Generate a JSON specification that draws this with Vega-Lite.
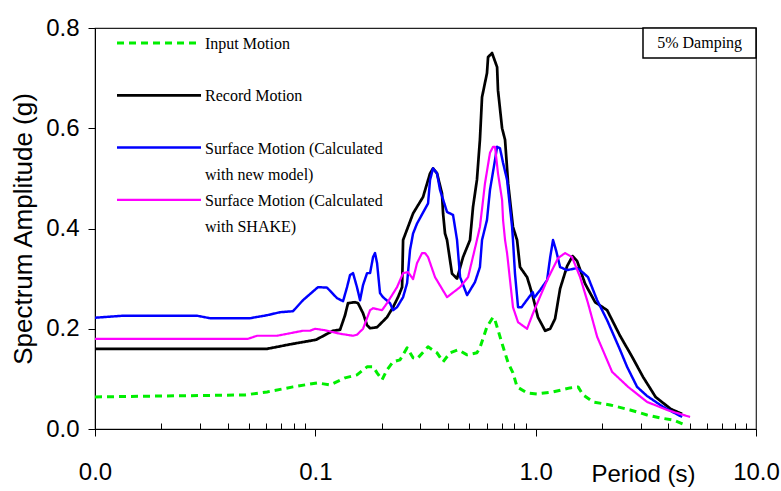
{
  "$schema": "https://vega.github.io/schema/vega-lite/v6.json",
  "width": 661,
  "height": 401,
  "autosize": {"type": "none"},
  "padding": {"left": 95, "top": 28, "right": 25, "bottom": 62},
  "background": "white",
  "config": {
    "view": {"stroke": "#222", "strokeWidth": 1.2},
    "axis": {"domainColor": "#000", "tickColor": "#000", "labelColor": "#000", "titleColor": "#000", "labelFont": "Liberation Sans", "titleFont": "Liberation Sans", "grid": false, "titleFontWeight": "normal"}
  },
  "datasets": {
    "curves": [
      {"series": "Input Motion", "period": 0.01, "amp": 0.064},
      {"series": "Input Motion", "period": 0.048, "amp": 0.068},
      {"series": "Input Motion", "period": 0.0604, "amp": 0.074},
      {"series": "Input Motion", "period": 0.0792, "amp": 0.084},
      {"series": "Input Motion", "period": 0.1018, "amp": 0.092},
      {"series": "Input Motion", "period": 0.1166, "amp": 0.088},
      {"series": "Input Motion", "period": 0.1364, "amp": 0.102},
      {"series": "Input Motion", "period": 0.1545, "amp": 0.108},
      {"series": "Input Motion", "period": 0.1717, "amp": 0.124},
      {"series": "Input Motion", "period": 0.1828, "amp": 0.124},
      {"series": "Input Motion", "period": 0.1906, "amp": 0.112},
      {"series": "Input Motion", "period": 0.2008, "amp": 0.098},
      {"series": "Input Motion", "period": 0.2115, "amp": 0.118},
      {"series": "Input Motion", "period": 0.2253, "amp": 0.134},
      {"series": "Input Motion", "period": 0.2424, "amp": 0.138},
      {"series": "Input Motion", "period": 0.2609, "amp": 0.162},
      {"series": "Input Motion", "period": 0.2777, "amp": 0.142},
      {"series": "Input Motion", "period": 0.2895, "amp": 0.14},
      {"series": "Input Motion", "period": 0.3248, "amp": 0.164},
      {"series": "Input Motion", "period": 0.3567, "amp": 0.152},
      {"series": "Input Motion", "period": 0.3799, "amp": 0.134},
      {"series": "Input Motion", "period": 0.4087, "amp": 0.152},
      {"series": "Input Motion", "period": 0.4446, "amp": 0.158},
      {"series": "Input Motion", "period": 0.4884, "amp": 0.148},
      {"series": "Input Motion", "period": 0.5413, "amp": 0.152},
      {"series": "Input Motion", "period": 0.5585, "amp": 0.162},
      {"series": "Input Motion", "period": 0.6012, "amp": 0.204},
      {"series": "Input Motion", "period": 0.6405, "amp": 0.223},
      {"series": "Input Motion", "period": 0.654, "amp": 0.217},
      {"series": "Input Motion", "period": 0.7112, "amp": 0.164},
      {"series": "Input Motion", "period": 0.7499, "amp": 0.132},
      {"series": "Input Motion", "period": 0.7889, "amp": 0.112},
      {"series": "Input Motion", "period": 0.8233, "amp": 0.084},
      {"series": "Input Motion", "period": 0.9141, "amp": 0.072},
      {"series": "Input Motion", "period": 1.014, "amp": 0.07},
      {"series": "Input Motion", "period": 1.199, "amp": 0.074},
      {"series": "Input Motion", "period": 1.432, "amp": 0.082},
      {"series": "Input Motion", "period": 1.558, "amp": 0.084},
      {"series": "Input Motion", "period": 1.641, "amp": 0.068},
      {"series": "Input Motion", "period": 1.822, "amp": 0.054},
      {"series": "Input Motion", "period": 2.178, "amp": 0.048},
      {"series": "Input Motion", "period": 2.683, "amp": 0.038},
      {"series": "Input Motion", "period": 3.204, "amp": 0.028},
      {"series": "Input Motion", "period": 3.671, "amp": 0.022},
      {"series": "Input Motion", "period": 4.203, "amp": 0.018},
      {"series": "Input Motion", "period": 4.768, "amp": 0.008},

      {"series": "Record Motion", "period": 0.01, "amp": 0.16},
      {"series": "Record Motion", "period": 0.0604, "amp": 0.16},
      {"series": "Record Motion", "period": 0.0792, "amp": 0.17},
      {"series": "Record Motion", "period": 0.1007, "amp": 0.178},
      {"series": "Record Motion", "period": 0.1203, "amp": 0.196},
      {"series": "Record Motion", "period": 0.1295, "amp": 0.198},
      {"series": "Record Motion", "period": 0.1364, "amp": 0.227},
      {"series": "Record Motion", "period": 0.1407, "amp": 0.251},
      {"series": "Record Motion", "period": 0.1514, "amp": 0.253},
      {"series": "Record Motion", "period": 0.1562, "amp": 0.251},
      {"series": "Record Motion", "period": 0.1646, "amp": 0.231},
      {"series": "Record Motion", "period": 0.1717, "amp": 0.207},
      {"series": "Record Motion", "period": 0.1772, "amp": 0.201},
      {"series": "Record Motion", "period": 0.1906, "amp": 0.203},
      {"series": "Record Motion", "period": 0.2008, "amp": 0.213},
      {"series": "Record Motion", "period": 0.2115, "amp": 0.223},
      {"series": "Record Motion", "period": 0.2253, "amp": 0.243},
      {"series": "Record Motion", "period": 0.2373, "amp": 0.263},
      {"series": "Record Motion", "period": 0.2476, "amp": 0.283},
      {"series": "Record Motion", "period": 0.2502, "amp": 0.377},
      {"series": "Record Motion", "period": 0.2777, "amp": 0.43},
      {"series": "Record Motion", "period": 0.3083, "amp": 0.463},
      {"series": "Record Motion", "period": 0.3317, "amp": 0.51},
      {"series": "Record Motion", "period": 0.3422, "amp": 0.52},
      {"series": "Record Motion", "period": 0.3567, "amp": 0.51},
      {"series": "Record Motion", "period": 0.3757, "amp": 0.47},
      {"series": "Record Motion", "period": 0.38, "amp": 0.43},
      {"series": "Record Motion", "period": 0.3878, "amp": 0.39},
      {"series": "Record Motion", "period": 0.396, "amp": 0.377},
      {"series": "Record Motion", "period": 0.4172, "amp": 0.31},
      {"series": "Record Motion", "period": 0.4397, "amp": 0.3},
      {"series": "Record Motion", "period": 0.4682, "amp": 0.343},
      {"series": "Record Motion", "period": 0.5035, "amp": 0.377},
      {"series": "Record Motion", "period": 0.5196, "amp": 0.443},
      {"series": "Record Motion", "period": 0.5413, "amp": 0.497},
      {"series": "Record Motion", "period": 0.5585, "amp": 0.577},
      {"series": "Record Motion", "period": 0.5709, "amp": 0.662},
      {"series": "Record Motion", "period": 0.6012, "amp": 0.71},
      {"series": "Record Motion", "period": 0.6081, "amp": 0.742},
      {"series": "Record Motion", "period": 0.6339, "amp": 0.75},
      {"series": "Record Motion", "period": 0.6683, "amp": 0.722},
      {"series": "Record Motion", "period": 0.6745, "amp": 0.676},
      {"series": "Record Motion", "period": 0.7041, "amp": 0.6},
      {"series": "Record Motion", "period": 0.7261, "amp": 0.577},
      {"series": "Record Motion", "period": 0.7499, "amp": 0.49},
      {"series": "Record Motion", "period": 0.7889, "amp": 0.403},
      {"series": "Record Motion", "period": 0.8233, "amp": 0.377},
      {"series": "Record Motion", "period": 0.8492, "amp": 0.323},
      {"series": "Record Motion", "period": 0.9141, "amp": 0.303},
      {"series": "Record Motion", "period": 0.9441, "amp": 0.283},
      {"series": "Record Motion", "period": 0.9727, "amp": 0.263},
      {"series": "Record Motion", "period": 1.024, "amp": 0.223},
      {"series": "Record Motion", "period": 1.104, "amp": 0.196},
      {"series": "Record Motion", "period": 1.164, "amp": 0.2},
      {"series": "Record Motion", "period": 1.225, "amp": 0.22},
      {"series": "Record Motion", "period": 1.291, "amp": 0.28},
      {"series": "Record Motion", "period": 1.389, "amp": 0.325},
      {"series": "Record Motion", "period": 1.47, "amp": 0.345},
      {"series": "Record Motion", "period": 1.542, "amp": 0.335},
      {"series": "Record Motion", "period": 1.675, "amp": 0.29},
      {"series": "Record Motion", "period": 1.861, "amp": 0.253},
      {"series": "Record Motion", "period": 2.11, "amp": 0.237},
      {"series": "Record Motion", "period": 2.415, "amp": 0.186},
      {"series": "Record Motion", "period": 2.74, "amp": 0.144},
      {"series": "Record Motion", "period": 3.07, "amp": 0.104},
      {"series": "Record Motion", "period": 3.5, "amp": 0.064},
      {"series": "Record Motion", "period": 4.1, "amp": 0.04},
      {"series": "Record Motion", "period": 4.62, "amp": 0.03},

      {"series": "Surface Motion (Calculated with new model)", "period": 0.01, "amp": 0.222},
      {"series": "Surface Motion (Calculated with new model)", "period": 0.0134, "amp": 0.226},
      {"series": "Surface Motion (Calculated with new model)", "period": 0.029, "amp": 0.226},
      {"series": "Surface Motion (Calculated with new model)", "period": 0.0333, "amp": 0.221},
      {"series": "Surface Motion (Calculated with new model)", "period": 0.0505, "amp": 0.221},
      {"series": "Surface Motion (Calculated with new model)", "period": 0.0604, "amp": 0.227},
      {"series": "Surface Motion (Calculated with new model)", "period": 0.0692, "amp": 0.233},
      {"series": "Surface Motion (Calculated with new model)", "period": 0.0792, "amp": 0.235},
      {"series": "Surface Motion (Calculated with new model)", "period": 0.0879, "amp": 0.257},
      {"series": "Surface Motion (Calculated with new model)", "period": 0.1028, "amp": 0.283},
      {"series": "Surface Motion (Calculated with new model)", "period": 0.113, "amp": 0.282},
      {"series": "Surface Motion (Calculated with new model)", "period": 0.1255, "amp": 0.261},
      {"series": "Surface Motion (Calculated with new model)", "period": 0.1336, "amp": 0.255},
      {"series": "Surface Motion (Calculated with new model)", "period": 0.1393, "amp": 0.283},
      {"series": "Surface Motion (Calculated with new model)", "period": 0.1437, "amp": 0.307},
      {"series": "Surface Motion (Calculated with new model)", "period": 0.1483, "amp": 0.311},
      {"series": "Surface Motion (Calculated with new model)", "period": 0.1545, "amp": 0.283},
      {"series": "Surface Motion (Calculated with new model)", "period": 0.1596, "amp": 0.257},
      {"series": "Surface Motion (Calculated with new model)", "period": 0.1646, "amp": 0.287},
      {"series": "Surface Motion (Calculated with new model)", "period": 0.1717, "amp": 0.311},
      {"series": "Surface Motion (Calculated with new model)", "period": 0.1772, "amp": 0.311},
      {"series": "Surface Motion (Calculated with new model)", "period": 0.1828, "amp": 0.343},
      {"series": "Surface Motion (Calculated with new model)", "period": 0.1866, "amp": 0.351},
      {"series": "Surface Motion (Calculated with new model)", "period": 0.1906, "amp": 0.331},
      {"series": "Surface Motion (Calculated with new model)", "period": 0.1966, "amp": 0.271},
      {"series": "Surface Motion (Calculated with new model)", "period": 0.2029, "amp": 0.263},
      {"series": "Surface Motion (Calculated with new model)", "period": 0.2183, "amp": 0.251},
      {"series": "Surface Motion (Calculated with new model)", "period": 0.2253, "amp": 0.237},
      {"series": "Surface Motion (Calculated with new model)", "period": 0.2349, "amp": 0.243},
      {"series": "Surface Motion (Calculated with new model)", "period": 0.2502, "amp": 0.263},
      {"series": "Surface Motion (Calculated with new model)", "period": 0.2609, "amp": 0.291},
      {"series": "Surface Motion (Calculated with new model)", "period": 0.269, "amp": 0.357},
      {"series": "Surface Motion (Calculated with new model)", "period": 0.2777, "amp": 0.39},
      {"series": "Surface Motion (Calculated with new model)", "period": 0.2895, "amp": 0.41},
      {"series": "Surface Motion (Calculated with new model)", "period": 0.3248, "amp": 0.45},
      {"series": "Surface Motion (Calculated with new model)", "period": 0.3317, "amp": 0.497},
      {"series": "Surface Motion (Calculated with new model)", "period": 0.3422, "amp": 0.52},
      {"series": "Surface Motion (Calculated with new model)", "period": 0.3567, "amp": 0.51},
      {"series": "Surface Motion (Calculated with new model)", "period": 0.3681, "amp": 0.477},
      {"series": "Surface Motion (Calculated with new model)", "period": 0.396, "amp": 0.433},
      {"series": "Surface Motion (Calculated with new model)", "period": 0.4217, "amp": 0.427},
      {"series": "Surface Motion (Calculated with new model)", "period": 0.4397, "amp": 0.377},
      {"series": "Surface Motion (Calculated with new model)", "period": 0.4539, "amp": 0.303},
      {"series": "Surface Motion (Calculated with new model)", "period": 0.4884, "amp": 0.267},
      {"series": "Surface Motion (Calculated with new model)", "period": 0.5303, "amp": 0.293},
      {"series": "Surface Motion (Calculated with new model)", "period": 0.5585, "amp": 0.323},
      {"series": "Surface Motion (Calculated with new model)", "period": 0.5709, "amp": 0.377},
      {"series": "Surface Motion (Calculated with new model)", "period": 0.6012, "amp": 0.417},
      {"series": "Surface Motion (Calculated with new model)", "period": 0.6204, "amp": 0.477},
      {"series": "Surface Motion (Calculated with new model)", "period": 0.654, "amp": 0.537},
      {"series": "Surface Motion (Calculated with new model)", "period": 0.6683, "amp": 0.563},
      {"series": "Surface Motion (Calculated with new model)", "period": 0.6887, "amp": 0.56},
      {"series": "Surface Motion (Calculated with new model)", "period": 0.7112, "amp": 0.531},
      {"series": "Surface Motion (Calculated with new model)", "period": 0.7416, "amp": 0.497},
      {"series": "Surface Motion (Calculated with new model)", "period": 0.7816, "amp": 0.403},
      {"series": "Surface Motion (Calculated with new model)", "period": 0.7889, "amp": 0.377},
      {"series": "Surface Motion (Calculated with new model)", "period": 0.8054, "amp": 0.311},
      {"series": "Surface Motion (Calculated with new model)", "period": 0.8318, "amp": 0.243},
      {"series": "Surface Motion (Calculated with new model)", "period": 0.863, "amp": 0.243},
      {"series": "Surface Motion (Calculated with new model)", "period": 0.929, "amp": 0.262},
      {"series": "Surface Motion (Calculated with new model)", "period": 0.97, "amp": 0.273},
      {"series": "Surface Motion (Calculated with new model)", "period": 0.985, "amp": 0.262},
      {"series": "Surface Motion (Calculated with new model)", "period": 1.047, "amp": 0.277},
      {"series": "Surface Motion (Calculated with new model)", "period": 1.127, "amp": 0.297},
      {"series": "Surface Motion (Calculated with new model)", "period": 1.164, "amp": 0.343},
      {"series": "Surface Motion (Calculated with new model)", "period": 1.199, "amp": 0.377},
      {"series": "Surface Motion (Calculated with new model)", "period": 1.24, "amp": 0.355},
      {"series": "Surface Motion (Calculated with new model)", "period": 1.291, "amp": 0.323},
      {"series": "Surface Motion (Calculated with new model)", "period": 1.389, "amp": 0.317},
      {"series": "Surface Motion (Calculated with new model)", "period": 1.542, "amp": 0.321},
      {"series": "Surface Motion (Calculated with new model)", "period": 1.61, "amp": 0.315},
      {"series": "Surface Motion (Calculated with new model)", "period": 1.728, "amp": 0.303},
      {"series": "Surface Motion (Calculated with new model)", "period": 1.901, "amp": 0.257},
      {"series": "Surface Motion (Calculated with new model)", "period": 2.11, "amp": 0.217},
      {"series": "Surface Motion (Calculated with new model)", "period": 2.415, "amp": 0.158},
      {"series": "Surface Motion (Calculated with new model)", "period": 2.6, "amp": 0.124},
      {"series": "Surface Motion (Calculated with new model)", "period": 2.886, "amp": 0.084},
      {"series": "Surface Motion (Calculated with new model)", "period": 3.2, "amp": 0.066},
      {"series": "Surface Motion (Calculated with new model)", "period": 3.79, "amp": 0.044},
      {"series": "Surface Motion (Calculated with new model)", "period": 4.62, "amp": 0.024},

      {"series": "Surface Motion (Calculated with SHAKE)", "period": 0.01, "amp": 0.18},
      {"series": "Surface Motion (Calculated with SHAKE)", "period": 0.0495, "amp": 0.18},
      {"series": "Surface Motion (Calculated with SHAKE)", "period": 0.0544, "amp": 0.186},
      {"series": "Surface Motion (Calculated with SHAKE)", "period": 0.067, "amp": 0.186},
      {"series": "Surface Motion (Calculated with SHAKE)", "period": 0.0879, "amp": 0.196},
      {"series": "Surface Motion (Calculated with SHAKE)", "period": 0.0946, "amp": 0.196},
      {"series": "Surface Motion (Calculated with SHAKE)", "period": 0.0997, "amp": 0.2},
      {"series": "Surface Motion (Calculated with SHAKE)", "period": 0.1107, "amp": 0.197},
      {"series": "Surface Motion (Calculated with SHAKE)", "period": 0.1295, "amp": 0.19},
      {"series": "Surface Motion (Calculated with SHAKE)", "period": 0.1483, "amp": 0.186},
      {"series": "Surface Motion (Calculated with SHAKE)", "period": 0.1545, "amp": 0.188},
      {"series": "Surface Motion (Calculated with SHAKE)", "period": 0.1646, "amp": 0.2},
      {"series": "Surface Motion (Calculated with SHAKE)", "period": 0.1772, "amp": 0.237},
      {"series": "Surface Motion (Calculated with SHAKE)", "period": 0.1828, "amp": 0.241},
      {"series": "Surface Motion (Calculated with SHAKE)", "period": 0.2008, "amp": 0.237},
      {"series": "Surface Motion (Calculated with SHAKE)", "period": 0.2115, "amp": 0.251},
      {"series": "Surface Motion (Calculated with SHAKE)", "period": 0.2349, "amp": 0.283},
      {"series": "Surface Motion (Calculated with SHAKE)", "period": 0.2502, "amp": 0.311},
      {"series": "Surface Motion (Calculated with SHAKE)", "period": 0.2634, "amp": 0.313},
      {"series": "Surface Motion (Calculated with SHAKE)", "period": 0.2777, "amp": 0.299},
      {"series": "Surface Motion (Calculated with SHAKE)", "period": 0.2895, "amp": 0.331},
      {"series": "Surface Motion (Calculated with SHAKE)", "period": 0.305, "amp": 0.351},
      {"series": "Surface Motion (Calculated with SHAKE)", "period": 0.3147, "amp": 0.351},
      {"series": "Surface Motion (Calculated with SHAKE)", "period": 0.3248, "amp": 0.343},
      {"series": "Surface Motion (Calculated with SHAKE)", "period": 0.3493, "amp": 0.303},
      {"series": "Surface Motion (Calculated with SHAKE)", "period": 0.396, "amp": 0.263},
      {"series": "Surface Motion (Calculated with SHAKE)", "period": 0.4539, "amp": 0.283},
      {"series": "Surface Motion (Calculated with SHAKE)", "period": 0.4936, "amp": 0.303},
      {"series": "Surface Motion (Calculated with SHAKE)", "period": 0.5413, "amp": 0.377},
      {"series": "Surface Motion (Calculated with SHAKE)", "period": 0.5585, "amp": 0.403},
      {"series": "Surface Motion (Calculated with SHAKE)", "period": 0.5888, "amp": 0.49},
      {"series": "Surface Motion (Calculated with SHAKE)", "period": 0.6204, "amp": 0.551},
      {"series": "Surface Motion (Calculated with SHAKE)", "period": 0.6405, "amp": 0.563},
      {"series": "Surface Motion (Calculated with SHAKE)", "period": 0.654, "amp": 0.563},
      {"series": "Surface Motion (Calculated with SHAKE)", "period": 0.6745, "amp": 0.51},
      {"series": "Surface Motion (Calculated with SHAKE)", "period": 0.7041, "amp": 0.457},
      {"series": "Surface Motion (Calculated with SHAKE)", "period": 0.7112, "amp": 0.417},
      {"series": "Surface Motion (Calculated with SHAKE)", "period": 0.7261, "amp": 0.377},
      {"series": "Surface Motion (Calculated with SHAKE)", "period": 0.7416, "amp": 0.351},
      {"series": "Surface Motion (Calculated with SHAKE)", "period": 0.7889, "amp": 0.243},
      {"series": "Surface Motion (Calculated with SHAKE)", "period": 0.8318, "amp": 0.213},
      {"series": "Surface Motion (Calculated with SHAKE)", "period": 0.9141, "amp": 0.2},
      {"series": "Surface Motion (Calculated with SHAKE)", "period": 0.9727, "amp": 0.231},
      {"series": "Surface Motion (Calculated with SHAKE)", "period": 1.127, "amp": 0.297},
      {"series": "Surface Motion (Calculated with SHAKE)", "period": 1.264, "amp": 0.341},
      {"series": "Surface Motion (Calculated with SHAKE)", "period": 1.359, "amp": 0.351},
      {"series": "Surface Motion (Calculated with SHAKE)", "period": 1.462, "amp": 0.343},
      {"series": "Surface Motion (Calculated with SHAKE)", "period": 1.591, "amp": 0.303},
      {"series": "Surface Motion (Calculated with SHAKE)", "period": 1.728, "amp": 0.251},
      {"series": "Surface Motion (Calculated with SHAKE)", "period": 1.901, "amp": 0.184},
      {"series": "Surface Motion (Calculated with SHAKE)", "period": 2.223, "amp": 0.114},
      {"series": "Surface Motion (Calculated with SHAKE)", "period": 2.628, "amp": 0.084},
      {"series": "Surface Motion (Calculated with SHAKE)", "period": 3.204, "amp": 0.054},
      {"series": "Surface Motion (Calculated with SHAKE)", "period": 3.948, "amp": 0.038},
      {"series": "Surface Motion (Calculated with SHAKE)", "period": 5.02, "amp": 0.024}
    ],
    "note": [{"label": "5% Damping", "x1": 3.07, "x2": 10, "y1": 0.74, "y2": 0.8, "xc": 5.55, "yc": 0.77}]
  },
  "layer": [
    {
      "data": {"name": "curves"},
      "mark": {"type": "line", "strokeJoin": "round", "clip": true},
      "encoding": {
        "x": {
          "field": "period", "type": "quantitative",
          "scale": {"type": "log", "domain": [0.01, 10], "nice": false},
          "axis": {
            "orient": "bottom",
            "title": "Period (s)", "titleFontSize": 24, "titleX": 548, "titleY": 52, "titleAnchor": "middle", "titleBaseline": "alphabetic",
            "values": [0.01, 0.02, 0.03, 0.04, 0.05, 0.06, 0.07, 0.08, 0.09, 0.1, 0.2, 0.3, 0.4, 0.5, 0.6, 0.7, 0.8, 0.9, 1, 2, 3, 4, 5, 6, 7, 8, 9, 10],
            "labelExpr": "(abs(log(datum.value)/LN10 - round(log(datum.value)/LN10)) < 0.001) ? format(datum.value, '.1f') : ''",
            "tickSize": {"condition": {"test": "abs(log(datum.value)/LN10 - round(log(datum.value)/LN10)) < 0.001", "value": 7}, "value": -6},
            "labelFontSize": 24, "labelPadding": 24, "labelFlush": false, "labelOverlap": false
          }
        },
        "y": {
          "field": "amp", "type": "quantitative",
          "scale": {"domain": [0, 0.8], "nice": false},
          "axis": {"title": "Spectrum Amplitude (g)", "titleFontSize": 26, "titlePadding": 9, "values": [0, 0.2, 0.4, 0.6, 0.8], "format": ".1f", "labelFontSize": 24, "labelPadding": 9, "tickSize": 7}
        },
        "color": {
          "field": "series", "type": "nominal",
          "scale": {"domain": ["Input Motion", "Record Motion", "Surface Motion (Calculated with new model)", "Surface Motion (Calculated with SHAKE)"], "range": ["#00ee00", "#000000", "#0000ff", "#ff00ff"]},
          "legend": {
            "title": null, "orient": "none", "legendX": 52, "legendY": 3, "padding": 0,
            "symbolType": "M-4,0H4", "symbolSize": 441, "symbolStrokeWidth": 2.5,
            "labelFont": "Liberation Serif", "labelFontSize": 16, "labelColor": "#000", "labelLimit": 400, "labelOffset": 34,
            "labelBaseline": "alphabetic", "rowPadding": 5.3,
            "labelExpr": "datum.label == 'Surface Motion (Calculated with new model)' ? ['Surface Motion (Calculated', 'with new model)'] : datum.label == 'Surface Motion (Calculated with SHAKE)' ? ['Surface Motion (Calculated', 'with SHAKE)'] : [datum.label, '']",
            "encode": {"labels": {"update": {"dy": {"value": 6}, "lineHeight": {"value": 26}}}}
          }
        },
        "strokeDash": {
          "field": "series", "type": "nominal",
          "scale": {"domain": ["Input Motion", "Record Motion", "Surface Motion (Calculated with new model)", "Surface Motion (Calculated with SHAKE)"], "range": [[7, 5], [1, 0], [1, 0], [1, 0]]},
          "legend": null
        },
        "strokeWidth": {
          "field": "series", "type": "nominal",
          "scale": {"domain": ["Input Motion", "Record Motion", "Surface Motion (Calculated with new model)", "Surface Motion (Calculated with SHAKE)"], "range": [3, 2.2, 2.2, 2.2]},
          "legend": null
        }
      }
    },
    {
      "data": {"name": "note"},
      "mark": {"type": "rect", "fill": "white", "stroke": "#000", "strokeWidth": 1.5},
      "encoding": {
        "x": {"field": "x1", "type": "quantitative"},
        "x2": {"field": "x2"},
        "y": {"field": "y1", "type": "quantitative"},
        "y2": {"field": "y2"}
      }
    },
    {
      "data": {"name": "note"},
      "mark": {"type": "text", "font": "Liberation Serif", "fontSize": 16, "color": "#000", "align": "center", "baseline": "middle"},
      "encoding": {
        "x": {"field": "xc", "type": "quantitative"},
        "y": {"field": "yc", "type": "quantitative"},
        "text": {"field": "label"}
      }
    }
  ]
}
